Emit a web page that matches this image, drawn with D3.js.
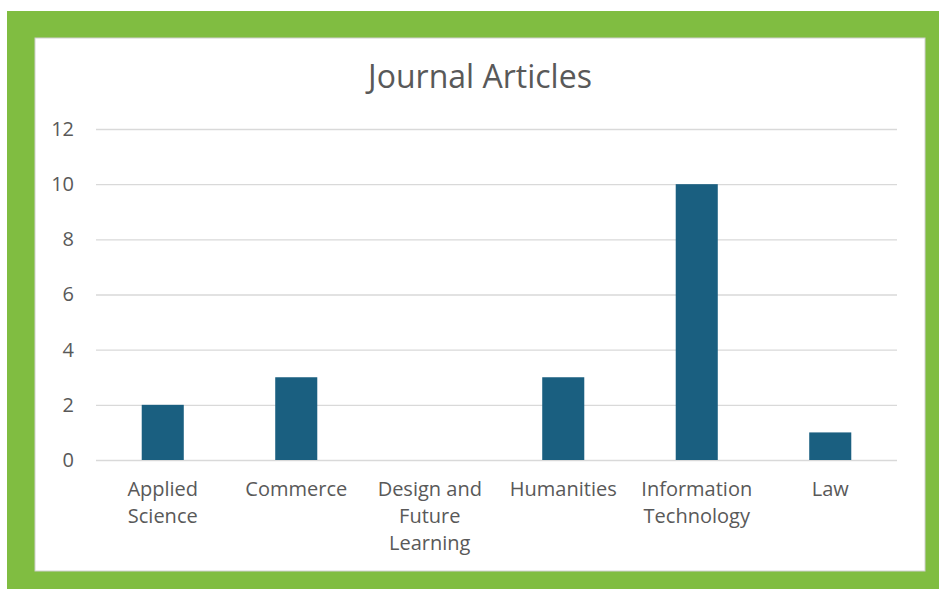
<!DOCTYPE html>
<html><head><meta charset="utf-8">
<script src="https://cdn.jsdelivr.net/npm/d3@7"></script>
<style>html,body{margin:0;padding:0;background:#fff;}</style>
</head><body>
<script>
const categories = ["Applied Science","Commerce","Design and Future Learning","Humanities","Information Technology","Law"];
const labelLines = [["Applied","Science"],["Commerce"],["Design and","Future","Learning"],["Humanities"],["Information","Technology"],["Law"]];
const values = [2,3,0,3,10,1];
const yTicks = [0,2,4,6,8,10,12];
const title = "Journal Articles";

const W = 939, H = 589;
const svg = d3.select("body").append("svg").attr("width", W).attr("height", H);
svg.append("rect").attr("x",0).attr("y",0).attr("width",W).attr("height",H).attr("fill","#fff");
svg.append("rect").attr("x",7).attr("y",11).attr("width",W-7).attr("height",H-11).attr("fill","#80bd41");
svg.append("rect").attr("x",35).attr("y",38).attr("width",890).attr("height",533).attr("fill","#fff").attr("stroke","#d0d0d0").attr("stroke-width",1);

const font = "'Open Sans', sans-serif";
const x = d3.scaleBand().domain(categories).range([96,897]).paddingInner(0.685).paddingOuter(0.3425);
const y = d3.scaleLinear().domain([0,12]).range([460,129]);

svg.append("text").attr("x",480).attr("y",88).attr("text-anchor","middle")
  .attr("font-family",font).attr("font-size",32).attr("fill","#595959").text(title);

const yAxis = svg.append("g").attr("transform","translate(96,0)")
  .call(d3.axisLeft(y).tickValues(yTicks).tickSize(-801).tickPadding(22).tickFormat(d3.format("d")));
yAxis.select(".domain").remove();
yAxis.selectAll("line").attr("stroke","#d9d9d9").attr("stroke-width",1.3);
yAxis.selectAll("text").attr("font-family",font).attr("font-size",20).attr("fill","#595959");

svg.selectAll("rect.bar").data(values).enter().append("rect").attr("class","bar")
  .attr("x",(d,i)=>x(categories[i])).attr("width",x.bandwidth())
  .attr("y",d=>y(d)).attr("height",d=>y(0)-y(d)).attr("fill","#1a5f80");

const xAxis = svg.append("g").attr("transform","translate(0,460)")
  .call(d3.axisBottom(x).tickSize(0).tickFormat(""));
xAxis.select(".domain").remove();
xAxis.selectAll(".tick").each(function(d,i){
  const t = d3.select(this).append("text").attr("font-family",font).attr("font-size",20)
    .attr("fill","#595959").attr("text-anchor","middle").attr("y",36);
  labelLines[i].forEach((ln,j)=>t.append("tspan").attr("x",0).attr("dy", j===0?0:27).text(ln));
});
</script>
</body></html>
